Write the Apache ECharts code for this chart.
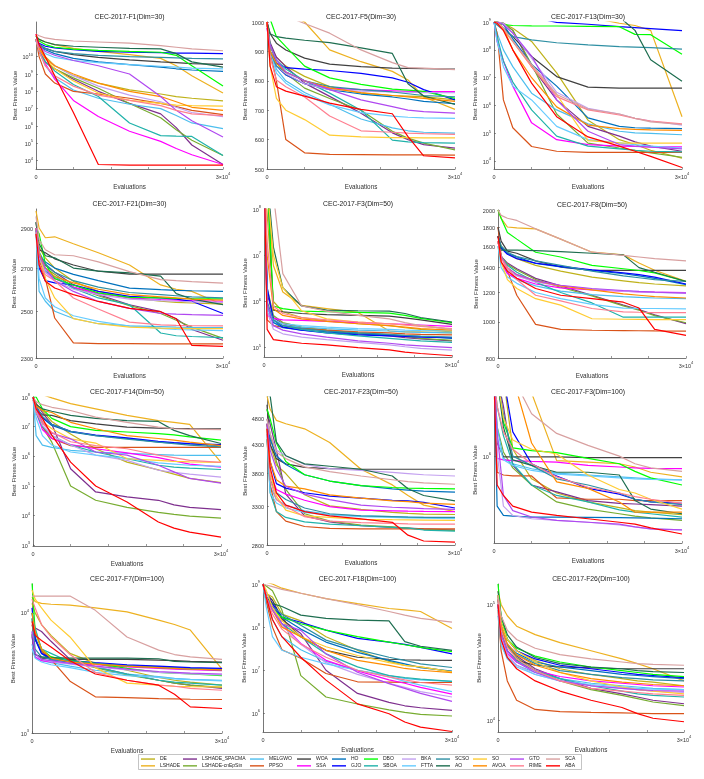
<!DOCTYPE html>
<html>
<head>
<meta charset="utf-8">
<title>CEC-2017 convergence curves</title>
<script src="https://cdn.jsdelivr.net/npm/echarts@6/dist/echarts.min.js"></script>
<style>
  html, body { margin: 0; padding: 0; background: #fff; }
  #chart { width: 704px; height: 779px; }
</style>
</head>
<body>
<div id="chart"></div>
<script>
const evals = [0, 500, 1500, 3000, 6000, 10000, 15000, 20000, 22500, 25000, 30000];

const algorithms = ['DE', 'LSHADE', 'LSHADE_SPACMA', 'LSHADE-cnEpSin', 'MELGWO', 'PPSO', 'WOA', 'SSA',
  'HO', 'GJO', 'DBO', 'SBOA', 'BKA', 'FTTA', 'SCSO', 'AO', 'SO', 'AVOA', 'GTO', 'RIME', 'SCA', 'ABA'];

// rows follow the order of `algorithms`
const f1Dim30 = [
  [1e11, 3e10, 1e10, 3e9, 8e8, 3e8, 1.2e8, 7e7, 5e7, 4e7, 2.8e7],
  [1.5e11, 1e11, 7e10, 5e10, 3e10, 2e10, 1.3e10, 8e9, 3e9, 8e8, 8e7],
  [1e11, 2e10, 5e9, 2e9, 5e8, 1e8, 2e7, 5e6, 8e5, 8e4, 6e3],
  [1e11, 2e10, 5e9, 2e9, 6e8, 1.5e8, 2e7, 3e6, 6e5, 1.5e5, 2e4],
  [1e11, 2e10, 3e9, 6e8, 1.2e8, 4e7, 1.8e7, 1e7, 4e6, 1.5e6, 7e5],
  [1e11, 1e10, 1e9, 3e8, 1e8, 7e7, 4e7, 2e7, 1.3e7, 8e6, 4.5e6],
  [1e11, 5e10, 3e10, 2e10, 1.3e10, 9e9, 6.5e9, 5e9, 4.5e9, 4e9, 3.6e9],
  [2e11, 3e10, 4e9, 5e8, 3e7, 3.5e6, 5e5, 1.3e5, 5e4, 2.2e4, 6e3],
  [8e10, 4e10, 2.5e10, 1.5e10, 8e9, 5e9, 3.5e9, 2.5e9, 2e9, 1.7e9, 1.4e9],
  [1e11, 6e10, 4e10, 3.2e10, 2.5e10, 2e10, 1.8e10, 1.7e10, 1.6e10, 1.6e10, 1.5e10],
  [1.5e11, 8e10, 5e10, 3.5e10, 2.7e10, 2.3e10, 2e10, 1.8e10, 1.2e10, 3e9, 2e8],
  [1e11, 2e10, 5e9, 1.5e9, 2.5e8, 5e7, 1.5e6, 2.8e5, 2.6e5, 2.5e5, 2e4],
  [1e11, 3e10, 8e9, 3e9, 8e8, 2e8, 6e7, 2.5e7, 1.2e7, 6e6, 3.5e6],
  [8e10, 3e10, 1.5e10, 9e9, 6e9, 4.5e9, 3.5e9, 2.8e9, 2.5e9, 2.2e9, 2e9],
  [1e11, 5e10, 3e10, 2e10, 1.5e10, 1.2e10, 1e10, 9e9, 8.5e9, 8e9, 7.5e9],
  [1.5e11, 1e11, 7e10, 5e10, 4e10, 3.5e10, 3e10, 2.8e10, 1.5e10, 5e9, 2.5e9],
  [1e11, 3e10, 8e9, 2e9, 4e8, 8e7, 3e7, 2e7, 1.6e7, 1.5e7, 1.4e7],
  [1e11, 3e10, 8e9, 3e9, 1e9, 3e8, 1e8, 5e7, 2.5e7, 1.2e7, 8e6],
  [1e11, 4e10, 2e10, 1.2e10, 6e9, 3e9, 1e9, 5e7, 8e6, 2e6, 2.3e5],
  [1e11, 2e10, 3e9, 8e8, 2e8, 6e7, 3e7, 1.5e7, 8e6, 5e6, 4e6],
  [2e11, 1.6e11, 1.2e11, 1e11, 8e10, 7e10, 6e10, 4.3e10, 3.5e10, 2.8e10, 2.2e10],
  [2e11, 5e10, 1e10, 8e8, 6e6, 6e3, 5.5e3, 5.5e3, 5.5e3, 5.5e3, 5.5e3]
];

const f5Dim30 = [
  [1000, 920, 880, 850, 815, 780, 758, 750, 748, 746, 735],
  [1060, 1050, 1040, 1030, 1000, 905, 865, 832, 803, 745, 703],
  [1000, 930, 880, 848, 792, 747, 690, 623, 600, 583, 571],
  [1000, 920, 860, 826, 775, 740, 700, 628, 605, 588, 565],
  [1000, 900, 840, 800, 760, 720, 670, 640, 630, 625, 622],
  [1000, 900, 800, 600, 555, 550, 549, 548, 548, 548, 547],
  [1000, 960, 928, 905, 877, 857, 848, 843, 842, 841, 840],
  [980, 900, 850, 820, 790, 775, 770, 766, 764, 763, 763],
  [1000, 900, 850, 820, 790, 770, 755, 745, 738, 730, 722],
  [1000, 900, 860, 845, 840, 835, 825, 810, 795, 770, 735],
  [1060, 1010, 950, 916, 850, 810, 788, 772, 768, 764, 740],
  [1000, 920, 870, 840, 800, 758, 700, 598, 592, 590, 588],
  [1000, 900, 850, 825, 790, 770, 765, 762, 761, 760, 760],
  [1000, 900, 826, 792, 752, 718, 692, 680, 676, 674, 672],
  [1000, 900, 850, 830, 800, 780, 770, 762, 756, 750, 745],
  [1000, 960, 950, 945, 938, 930, 912, 893, 790, 748, 720],
  [1000, 850, 740, 700, 668, 615, 609, 607, 607, 606, 606],
  [1000, 900, 860, 830, 800, 775, 760, 750, 745, 740, 730],
  [980, 920, 870, 830, 800, 770, 735, 712, 700, 695, 690],
  [1000, 880, 803, 780, 745, 680, 630, 625, 622, 620, 618],
  [1060, 1050, 1040, 1020, 995, 962, 905, 862, 845, 843, 838],
  [1000, 850, 780, 765, 748, 724, 703, 688, 610, 545, 538]
];

const f13Dim30 = [
  [1e9, 1e9, 9e8, 6e8, 2e8, 1.5e7, 3e5, 6e4, 4e4, 2.5e4, 1.3e4],
  [5e9, 5e9, 4e9, 3e9, 2.5e9, 2e9, 1.5e9, 9e8, 7.5e8, 5e8, 4e5],
  [1e9, 1e9, 9e8, 5e8, 2.5e7, 1.6e6, 1.8e5, 8e4, 5e4, 3.5e4, 2.3e4],
  [1e9, 1e9, 9e8, 5e8, 3e7, 5e5, 4.5e4, 3e4, 2.5e4, 2e4, 1.4e4],
  [1e9, 4e8, 1e8, 2.5e7, 2.8e6, 7e5, 2.2e5, 1.2e5, 1.05e5, 1e5, 9e4],
  [1e9, 4e8, 1.6e6, 1.6e5, 3.4e4, 2.3e4, 2.1e4, 2.1e4, 2.1e4, 2.1e4, 2.1e4],
  [1e9, 9e8, 6e8, 3e8, 5.8e7, 1.1e7, 4.6e6, 4.2e6, 4.2e6, 4.2e6, 4.2e6],
  [1e9, 2e8, 4e7, 5e6, 2.4e5, 6e4, 4e4, 3.5e4, 3.4e4, 3.3e4, 3.3e4],
  [1e9, 1e9, 8e8, 2.5e8, 3e7, 5e6, 3.6e5, 1.8e5, 1.6e5, 1.55e5, 1.5e5],
  [5e9, 4e9, 3e9, 2.5e9, 1.5e9, 9.7e8, 8.3e8, 6.8e8, 6.3e8, 5.8e8, 4.9e8],
  [1.2e9, 9e8, 8e8, 7.5e8, 7.3e8, 7.2e8, 7e8, 6.8e8, 3.6e8, 3.5e8, 7e7],
  [1e9, 3e8, 4e7, 7e6, 7e5, 8e4, 3.5e4, 2.8e4, 2.5e4, 2.3e4, 2.2e4],
  [1e9, 1e9, 9e8, 4e8, 5e7, 3e6, 8e5, 5e5, 3.5e5, 2.8e5, 2e5],
  [1e9, 2e8, 2.5e7, 5e6, 1.6e6, 1.8e5, 6e4, 4.6e4, 4e4, 3.5e4, 3e4],
  [1e9, 7.8e8, 5.2e8, 3e8, 2.3e8, 1.8e8, 1.5e8, 1.3e8, 1.25e8, 1.2e8, 1.07e8],
  [5e9, 5e9, 4e9, 3.5e9, 3e9, 2.5e9, 2e9, 1.5e9, 5e8, 4.4e7, 7.5e6],
  [1e9, 1e9, 5e8, 2e8, 2.5e7, 2.5e6, 5.5e4, 4.6e4, 4.5e4, 4.5e4, 4.5e4],
  [1e9, 1e9, 6e8, 1e8, 1e7, 9e5, 2e5, 1.5e5, 1.4e5, 1.35e5, 1.3e5],
  [1e9, 1e9, 8e8, 4e8, 6e7, 1.6e6, 1.2e5, 4e4, 3.5e4, 3.2e4, 2.8e4],
  [1e9, 9e8, 6e8, 2e8, 2.5e7, 2.1e6, 7e5, 4.6e5, 3.5e5, 2.8e5, 2.2e5],
  [1e9, 9e8, 6e8, 2e8, 3e7, 2.5e6, 7.5e5, 5e5, 3.5e5, 2.6e5, 2.1e5],
  [1e9, 9e8, 5e8, 1e8, 6.4e6, 4e5, 7.5e4, 3.5e4, 2.3e4, 1.5e4, 6e3]
];

const f21Dim30 = [
  [2900, 2800, 2750, 2700, 2637, 2590, 2560, 2545, 2540, 2537, 2532],
  [2990, 2900, 2850, 2855, 2820, 2775, 2715, 2620, 2600, 2590, 2529],
  [2900, 2770, 2714, 2680, 2621, 2575, 2529, 2498, 2467, 2420, 2374],
  [2900, 2760, 2700, 2670, 2610, 2570, 2525, 2490, 2460, 2430, 2382],
  [2880, 2590, 2545, 2500, 2468, 2445, 2436, 2432, 2430, 2429, 2428],
  [2870, 2740, 2650, 2470, 2363, 2360, 2360, 2359, 2359, 2359, 2359],
  [2930, 2790, 2775, 2745, 2715, 2685, 2671, 2671, 2671, 2671, 2671],
  [2900, 2750, 2680, 2650, 2610, 2580, 2560, 2553, 2550, 2548, 2545],
  [2900, 2760, 2730, 2700, 2670, 2640, 2605, 2598, 2595, 2593, 2590],
  [2900, 2700, 2640, 2630, 2620, 2590, 2567, 2560, 2555, 2545, 2490],
  [2900, 2870, 2720, 2650, 2620, 2583, 2563, 2560, 2558, 2557, 2556],
  [2900, 2750, 2685, 2660, 2605, 2560, 2529, 2405, 2393, 2390, 2385],
  [2900, 2750, 2680, 2640, 2600, 2575, 2555, 2548, 2545, 2542, 2540],
  [2880, 2650, 2560, 2520, 2480, 2455, 2435, 2425, 2420, 2418, 2415],
  [2900, 2780, 2720, 2680, 2640, 2610, 2585, 2575, 2570, 2565, 2560],
  [2930, 2820, 2760, 2750, 2700, 2685, 2677, 2662, 2580, 2555, 2530],
  [2900, 2780, 2650, 2560, 2467, 2445, 2430, 2426, 2425, 2424, 2424],
  [2900, 2770, 2700, 2660, 2630, 2600, 2575, 2565, 2560, 2555, 2550],
  [2900, 2760, 2700, 2640, 2590, 2544, 2513, 2490, 2487, 2485, 2482],
  [2880, 2720, 2668, 2640, 2560, 2510, 2452, 2440, 2438, 2437, 2436],
  [2960, 2840, 2790, 2765, 2760, 2730, 2683, 2645, 2640, 2636, 2629],
  [2870, 2715, 2637, 2606, 2575, 2544, 2513, 2498, 2467, 2352, 2348]
];

const f3Dim50 = [
  [1e9, 8e7, 1e6, 6e5, 4.5e5, 3.8e5, 3.3e5, 3e5, 2.7e5, 2.5e5, 2.2e5],
  [1e9, 3e8, 6e6, 1.6e6, 8.2e5, 7e5, 5.8e5, 2.3e5, 2.2e5, 2.2e5, 2.1e5],
  [1e9, 1.5e6, 4.5e5, 3.3e5, 2.7e5, 2.3e5, 2e5, 1.8e5, 1.65e5, 1.55e5, 1.4e5],
  [1e9, 2e6, 5e5, 3.5e5, 2.8e5, 2.4e5, 2.1e5, 1.9e5, 1.75e5, 1.6e5, 1.45e5],
  [1e9, 6e5, 3.5e5, 3e5, 2.8e5, 2.6e5, 2.4e5, 2.3e5, 2.2e5, 2.15e5, 2.1e5],
  [1e9, 4e5, 3e5, 2.8e5, 2.6e5, 2.4e5, 2.2e5, 2.1e5, 2e5, 1.95e5, 1.9e5],
  [1e9, 5e8, 6.5e5, 6e5, 5.5e5, 5.2e5, 5e5, 4.8e5, 4.4e5, 4e5, 3.2e5],
  [1e9, 5e5, 4.3e5, 4e5, 3.9e5, 3.7e5, 3.5e5, 3.3e5, 3.2e5, 3.1e5, 2.9e5],
  [1e9, 8e5, 3.5e5, 2.7e5, 2.4e5, 2.2e5, 2e5, 1.9e5, 1.8e5, 1.75e5, 1.6e5],
  [1e9, 2e6, 4e5, 2.8e5, 2.4e5, 2.1e5, 1.9e5, 1.8e5, 1.75e5, 1.7e5, 1.65e5],
  [1e9, 5e8, 8e5, 7e5, 6.2e5, 6e5, 5.8e5, 5.6e5, 5e5, 4.3e5, 3.5e5],
  [1e9, 8e5, 4e5, 3e5, 2.5e5, 2.1e5, 1.8e5, 1.6e5, 1.5e5, 1.4e5, 1.3e5],
  [1e9, 6e5, 2.5e5, 2e5, 1.7e5, 1.5e5, 1.3e5, 1.15e5, 1.05e5, 9.7e4, 8.9e4],
  [1e9, 7e5, 4e5, 3.3e5, 3e5, 2.8e5, 2.6e5, 2.5e5, 2.4e5, 2.35e5, 2.3e5],
  [1e9, 1e6, 4e5, 3e5, 2.6e5, 2.3e5, 2.1e5, 1.95e5, 1.85e5, 1.78e5, 1.7e5],
  [1e9, 5e8, 1.5e7, 2e6, 8e5, 6.5e5, 6.3e5, 6.2e5, 5.5e5, 4.5e5, 3.6e5],
  [1e9, 3e8, 1e7, 2e6, 6.3e5, 4.2e5, 3.6e5, 3.3e5, 3.1e5, 3e5, 2.5e5],
  [1e9, 1e7, 7e5, 5e5, 4.2e5, 3.7e5, 3.3e5, 3e5, 2.8e5, 2.6e5, 2.4e5],
  [1e9, 9e5, 3e5, 2.4e5, 2e5, 1.7e5, 1.4e5, 1.25e5, 1.15e5, 1.1e5, 1e5],
  [1e9, 2e7, 8e5, 5.5e5, 4.5e5, 4e5, 3.6e5, 3.3e5, 3.1e5, 2.9e5, 2.6e5],
  [1e9, 1e9, 2e8, 4e6, 8e5, 6.2e5, 5e5, 4.2e5, 3.5e5, 3e5, 2.5e5],
  [1e9, 2.5e5, 1.5e5, 1.4e5, 1.25e5, 1.15e5, 1e5, 9e4, 8e4, 7.5e4, 6.7e4]
];

const f8Dim50 = [
  [1700, 1600, 1530, 1480, 1420, 1370, 1320, 1290, 1275, 1265, 1250],
  [2000, 1900, 1800, 1790, 1780, 1670, 1540, 1515, 1440, 1377, 1286],
  [1650, 1500, 1440, 1390, 1310, 1250, 1180, 1110, 1080, 1045, 990],
  [1650, 1500, 1430, 1380, 1300, 1240, 1175, 1105, 1075, 1040, 995],
  [1600, 1450, 1350, 1300, 1250, 1210, 1185, 1170, 1165, 1160, 1155],
  [1800, 1510, 1370, 1180, 985, 955, 950, 948, 947, 946, 945],
  [1800, 1650, 1550, 1530, 1460, 1405, 1377, 1377, 1377, 1377, 1377],
  [1650, 1450, 1350, 1310, 1265, 1235, 1220, 1210, 1205, 1203, 1200],
  [1700, 1590, 1530, 1496, 1436, 1407, 1377, 1348, 1330, 1310, 1260],
  [1700, 1580, 1520, 1480, 1440, 1410, 1380, 1355, 1340, 1320, 1265],
  [2000, 1900, 1740, 1670, 1540, 1495, 1420, 1390, 1375, 1355, 1285],
  [1650, 1500, 1420, 1360, 1280, 1200, 1125, 1030, 1030, 1030, 1030],
  [1650, 1500, 1380, 1330, 1280, 1250, 1225, 1210, 1205, 1200, 1195],
  [1600, 1400, 1320, 1270, 1200, 1155, 1115, 1090, 1088, 1087, 1085],
  [1700, 1600, 1540, 1500, 1460, 1420, 1370, 1330, 1315, 1300, 1285],
  [1700, 1560, 1560, 1560, 1555, 1545, 1530, 1515, 1400, 1360, 1285],
  [1650, 1450, 1300, 1230, 1155, 1110, 1020, 1017, 1016, 1015, 1015],
  [1650, 1500, 1400, 1340, 1290, 1250, 1220, 1190, 1180, 1170, 1160],
  [1650, 1500, 1400, 1340, 1290, 1255, 1230, 1215, 1208, 1203, 1195],
  [1650, 1480, 1400, 1300, 1180, 1140, 1087, 1065, 1062, 1060, 1059],
  [2000, 1935, 1900, 1875, 1780, 1670, 1540, 1510, 1495, 1480, 1460],
  [1700, 1450, 1370, 1310, 1230, 1180, 1155, 1130, 1090, 955, 920]
];

const f14Dim50 = [
  [1e8, 6e7, 3.5e7, 1.5e7, 5.7e6, 1.8e6, 6.4e5, 3.5e5, 2.5e5, 1.8e5, 1.3e5],
  [1.5e8, 1.5e8, 1.2e8, 9.3e7, 6e7, 4e7, 2.4e7, 1.6e7, 1.4e7, 1.2e7, 6.3e5],
  [1e8, 6e7, 3e7, 1.2e7, 3.8e5, 6.3e4, 4.3e4, 3.3e4, 2.3e4, 1.9e4, 1.6e4],
  [1e8, 5e7, 1e7, 3e6, 1e5, 3.3e4, 1.9e4, 1.3e4, 1.1e4, 9.7e3, 8.3e3],
  [1e8, 5e6, 2.4e6, 2e6, 1.6e6, 1.4e6, 1.25e6, 1.15e6, 1.1e6, 1.08e6, 1.07e6],
  [8e7, 5e7, 1e7, 4e6, 2.3e6, 2e6, 2e6, 2e6, 2e6, 2e6, 2e6],
  [1e8, 4e7, 2.5e7, 2.4e7, 1.6e7, 1.25e7, 9.7e6, 9e6, 8.7e6, 8.6e6, 8.5e6],
  [1e8, 3e7, 8e6, 4e6, 2.5e6, 1.8e6, 1.3e6, 9e5, 7e5, 5.5e5, 4.3e5],
  [1e8, 5e7, 2e7, 1.1e7, 6.6e6, 5e6, 4e6, 3e6, 2.8e6, 2.6e6, 2.3e6],
  [1e8, 5e7, 2e7, 1.2e7, 7e6, 5.2e6, 4.2e6, 3.2e6, 2.9e6, 2.7e6, 2.5e6],
  [1e8, 1e8, 4e7, 1.9e7, 1e7, 7.5e6, 6.6e6, 5.8e6, 5.3e6, 4.5e6, 3.5e6],
  [1e8, 3e7, 1e7, 5e6, 2.4e6, 1.4e6, 8.3e5, 5e5, 4.3e5, 4e5, 3.6e5],
  [1e8, 4e7, 1.1e7, 5e6, 2.4e6, 1.1e6, 7.3e5, 3.4e5, 2.9e5, 2.5e5, 2e5],
  [1e8, 2e7, 5e6, 2.4e6, 1.4e6, 1.1e6, 8.5e5, 6e5, 5.5e5, 5e5, 4.6e5],
  [1e8, 5e7, 2.2e7, 1.2e7, 7e6, 5e6, 3.8e6, 3e6, 2.7e6, 2.4e6, 2.1e6],
  [1e8, 5.5e7, 4e7, 3.3e7, 2.4e7, 1.9e7, 1.6e7, 1.5e7, 7.5e6, 5e6, 2.7e6],
  [1e8, 4e7, 1.5e7, 8.5e6, 3.9e6, 2.8e6, 8.3e5, 7.3e5, 6.8e5, 6.5e5, 6.3e5],
  [1e8, 5e7, 3.5e7, 3e7, 1.4e7, 8.5e6, 5e6, 4e6, 3.5e6, 3e6, 2.3e6],
  [1e8, 4e7, 1.4e7, 6e6, 3.9e6, 1.4e6, 1.1e6, 5e5, 3e5, 1.8e5, 1.25e5],
  [1e8, 3e7, 1.3e7, 6.5e6, 3.1e6, 2.3e6, 1.8e6, 1.1e6, 9e5, 7.3e5, 6.3e5],
  [1e8, 7e7, 5.5e7, 4.5e7, 3.5e7, 2.1e7, 1.4e7, 9.7e6, 8.5e6, 8.2e6, 7.9e6],
  [1e8, 4e7, 1.9e7, 5.2e6, 6.4e5, 1e5, 2.9e4, 6.1e3, 3.8e3, 2.8e3, 1.9e3]
];

const f23Dim50 = [
  [4700, 4300, 3940, 3800, 3470, 3310, 3260, 3220, 3205, 3195, 3190],
  [5300, 5000, 4770, 4700, 4600, 4340, 3870, 3620, 3460, 3320, 3230],
  [5000, 4700, 4200, 3480, 3170, 3090, 3040, 3020, 3010, 3000, 2985],
  [4800, 4500, 4000, 3550, 3200, 3100, 3050, 3025, 3010, 2995, 2980],
  [4500, 3600, 3400, 3320, 3240, 3190, 3170, 3160, 3155, 3150, 3145],
  [4400, 3620, 3230, 3100, 3030, 3005, 3000, 3000, 3000, 3000, 3000],
  [5100, 4300, 4050, 3960, 3900, 3880, 3870, 3870, 3870, 3870, 3870],
  [4600, 3800, 3550, 3480, 3390, 3300, 3250, 3240, 3235, 3232, 3230],
  [4700, 4400, 4100, 3950, 3780, 3680, 3610, 3560, 3540, 3525, 3510],
  [4700, 4000, 3640, 3570, 3500, 3450, 3420, 3390, 3380, 3360, 3280],
  [5000, 4800, 4330, 4000, 3780, 3680, 3610, 3580, 3570, 3565, 3560],
  [4400, 3500, 3230, 3150, 3090, 3060, 3040, 3020, 3010, 2985, 2970],
  [4800, 4500, 4200, 4100, 3950, 3880, 3850, 3820, 3800, 3780, 3760],
  [4500, 3500, 3350, 3280, 3220, 3180, 3160, 3150, 3145, 3140, 3135],
  [4600, 3700, 3500, 3400, 3280, 3200, 3170, 3160, 3155, 3152, 3150],
  [5300, 5300, 4350, 4100, 3960, 3920, 3870, 3760, 3560, 3460, 3380],
  [4600, 3800, 3450, 3250, 3170, 3150, 3125, 3120, 3118, 3115, 3110],
  [4700, 4000, 3700, 3600, 3560, 3470, 3420, 3380, 3370, 3350, 3330],
  [4700, 4200, 3870, 3600, 3480, 3400, 3320, 3290, 3280, 3270, 3260],
  [4500, 3700, 3400, 3300, 3160, 3100, 3080, 3070, 3065, 3062, 3060],
  [4800, 4500, 4160, 4050, 3910, 3830, 3760, 3700, 3670, 3650, 3630],
  [4600, 3900, 3500, 3320, 3230, 3170, 3130, 3085, 2920, 2848, 2835]
];

const f3Dim100 = [
  [3e6, 3e6, 3e6, 1.1e6, 7.3e5, 6e5, 5.3e5, 4.9e5, 4.7e5, 4.6e5, 4.45e5],
  [3e6, 3e6, 3e6, 3e6, 2.4e6, 9.4e5, 9.2e5, 9e5, 8.6e5, 8e5, 7.5e5],
  [3e6, 3e6, 2e6, 8.8e5, 6.7e5, 6.1e5, 5.4e5, 5.2e5, 5.15e5, 5.1e5, 5e5],
  [3e6, 1.5e6, 1.06e6, 8.5e5, 6.7e5, 5.3e5, 4.8e5, 4.5e5, 4.35e5, 4.25e5, 4.1e5],
  [3e6, 1.5e6, 9.7e5, 9e5, 8.4e5, 7.9e5, 7.7e5, 7.5e5, 7.4e5, 7.3e5, 7.2e5],
  [3e6, 8e5, 7.7e5, 7.6e5, 7.6e5, 5.6e5, 5.5e5, 5.5e5, 5.4e5, 5.4e5, 5.4e5],
  [3e6, 1.2e6, 9.9e5, 9.9e5, 9.9e5, 9.9e5, 9.8e5, 9.8e5, 9.8e5, 9.8e5, 9.8e5],
  [3e6, 9.7e5, 9.5e5, 9.4e5, 9.3e5, 9.2e5, 8.8e5, 8.6e5, 8.5e5, 8.45e5, 8.4e5],
  [3e6, 5e5, 4.4e5, 4.35e5, 4.3e5, 4.3e5, 4.28e5, 4.26e5, 4.25e5, 4.23e5, 4.2e5],
  [3e6, 3e6, 3e6, 1.4e6, 9e5, 7.6e5, 6.4e5, 5.9e5, 5.5e5, 5.3e5, 5.2e5],
  [3e6, 3e6, 1.6e6, 1.12e6, 1.08e6, 1.05e6, 9.7e5, 9e5, 8.1e5, 7.4e5, 6.7e5],
  [3e6, 2e6, 1.33e6, 9e5, 6.7e5, 5.8e5, 5.3e5, 4.75e5, 4.6e5, 4.5e5, 4.3e5],
  [3e6, 1.05e6, 5e5, 4.4e5, 4.2e5, 4.1e5, 4e5, 3.85e5, 3.75e5, 3.65e5, 3.6e5],
  [3e6, 1.3e6, 9.5e5, 8.8e5, 8.2e5, 7.8e5, 7.6e5, 7.4e5, 7.3e5, 7.25e5, 7.2e5],
  [3e6, 3e6, 1.8e6, 1e6, 8.8e5, 7.3e5, 6.7e5, 6e5, 5.5e5, 5.3e5, 5.1e5],
  [3e6, 3e6, 1.5e6, 9.5e5, 8.8e5, 8e5, 8e5, 7.7e5, 5.4e5, 4.8e5, 4.5e5],
  [3e6, 3e6, 1.7e6, 1.25e6, 1.1e6, 1.03e6, 7.7e5, 6.3e5, 6e5, 5.5e5, 4.8e5],
  [3e6, 3e6, 3e6, 3e6, 1.2e6, 7e5, 6.4e5, 5.3e5, 4.6e5, 4.6e5, 4.6e5],
  [3e6, 1.4e6, 5.8e5, 4.7e5, 4.3e5, 4.1e5, 4e5, 3.9e5, 3.75e5, 3.65e5, 3.6e5],
  [3e6, 2e6, 1.4e6, 1.1e6, 9e5, 7.5e5, 6.5e5, 6e5, 5.7e5, 5.5e5, 5.2e5],
  [3e6, 3e6, 3e6, 3e6, 1.8e6, 1.37e6, 1.16e6, 1e6, 9e5, 8.5e5, 8.1e5],
  [3e6, 6.7e5, 5.8e5, 5e5, 4.6e5, 4.4e5, 4.2e5, 4e5, 3.9e5, 3.7e5, 3.4e5]
];

const f7Dim100 = [
  [1.2e4, 1e4, 8e3, 6.5e3, 4.6e3, 3.8e3, 3.33e3, 2.9e3, 2.75e3, 2.65e3, 2.5e3],
  [1.36e4, 1.24e4, 1.2e4, 1.18e4, 1.16e4, 1.1e4, 1.02e4, 8.7e3, 8e3, 7.2e3, 3.4e3],
  [8e3, 7.5e3, 7e3, 5.8e3, 4.1e3, 3.55e3, 3.1e3, 2.75e3, 2.6e3, 2.5e3, 2.35e3],
  [9e3, 6e3, 4.8e3, 4.3e3, 3.9e3, 3.5e3, 3.05e3, 2.75e3, 2.6e3, 2.5e3, 2.4e3],
  [5.5e3, 4.3e3, 4e3, 3.85e3, 3.6e3, 3.33e3, 3.1e3, 2.95e3, 2.85e3, 2.8e3, 2.75e3],
  [8e3, 6e3, 4.8e3, 4.1e3, 2.7e3, 2e3, 1.97e3, 1.93e3, 1.92e3, 1.91e3, 1.9e3],
  [6.7e3, 4.5e3, 4.2e3, 4.15e3, 4.1e3, 4.1e3, 4.1e3, 4.05e3, 4e3, 3.95e3, 3.9e3],
  [6.3e3, 4.3e3, 4e3, 3.9e3, 3.8e3, 3.7e3, 3.55e3, 3.45e3, 3.4e3, 3.37e3, 3.3e3],
  [1e4, 6.3e3, 4.6e3, 4.05e3, 3.9e3, 3.8e3, 3.65e3, 3.55e3, 3.5e3, 3.45e3, 3.4e3],
  [1.1e4, 6e3, 4.6e3, 4.2e3, 4e3, 3.85e3, 3.7e3, 3.6e3, 3.55e3, 3.5e3, 3.45e3],
  [1.8e4, 7e3, 5e3, 4.3e3, 4e3, 3.8e3, 3.45e3, 3.2e3, 3.15e3, 3.1e3, 3e3],
  [1e4, 7.5e3, 5e3, 4.6e3, 3.9e3, 3.55e3, 3.1e3, 2.75e3, 2.65e3, 2.6e3, 2.5e3],
  [7e3, 4.5e3, 4.1e3, 3.95e3, 3.75e3, 3.55e3, 3.35e3, 3.2e3, 3.15e3, 3.1e3, 3.05e3],
  [5e3, 4.2e3, 3.9e3, 3.7e3, 3.5e3, 3.2e3, 3e3, 2.9e3, 2.82e3, 2.78e3, 2.72e3],
  [9e3, 5e3, 4.3e3, 4.1e3, 3.95e3, 3.8e3, 3.6e3, 3.5e3, 3.45e3, 3.4e3, 3.35e3],
  [6.5e3, 4.5e3, 4.3e3, 4.25e3, 4.2e3, 4.2e3, 4.2e3, 4.15e3, 3.95e3, 3.9e3, 3.85e3],
  [1.55e4, 1.3e4, 1.1e4, 8.7e3, 6.3e3, 3.5e3, 2.6e3, 2.5e3, 2.45e3, 2.43e3, 2.42e3],
  [1e4, 7e3, 5e3, 4.2e3, 3.9e3, 3.75e3, 3.6e3, 3.5e3, 3.45e3, 3.4e3, 3.35e3],
  [7e3, 4.6e3, 4.1e3, 4e3, 3.8e3, 3.6e3, 3.4e3, 3.25e3, 3.2e3, 3.15e3, 3.1e3],
  [1.3e4, 1.1e4, 8e3, 6.3e3, 4.5e3, 3.2e3, 2.75e3, 2.5e3, 2.45e3, 2.35e3, 2.27e3],
  [1.38e4, 1.38e4, 1.38e4, 1.38e4, 1.38e4, 1.05e4, 6.3e3, 4.9e3, 4.5e3, 4.3e3, 4.1e3],
  [8.5e3, 6.5e3, 5.9e3, 5.2e3, 4e3, 3.1e3, 2.75e3, 2.5e3, 2.1e3, 1.65e3, 1.6e3]
];

const f18Dim100 = [
  [1e9, 6e8, 5e8, 2e8, 1.4e8, 6e7, 2.9e7, 1.6e7, 1.3e7, 1.2e7, 9.2e6],
  [1.2e9, 1.1e9, 1e9, 8e8, 6.1e8, 4.6e8, 3.5e8, 2.7e8, 2.5e8, 2.3e8, 9.3e7],
  [1e9, 6e8, 3.5e8, 1.5e8, 7.1e7, 1e7, 2.9e6, 1.8e6, 1.5e6, 1.35e6, 1.17e6],
  [1e9, 9e8, 7e8, 2.5e8, 7.5e6, 2.4e6, 1.65e6, 1.2e6, 1.05e6, 9.5e5, 8.7e5],
  [1e9, 4e8, 1.5e8, 6e7, 3e7, 1.6e7, 1e7, 7.5e6, 6.5e6, 6e6, 5.5e6],
  [1e9, 4e8, 1e8, 3e7, 1.9e7, 8.4e6, 5.4e6, 5.3e6, 5.25e6, 5.2e6, 5.2e6],
  [1e9, 6e8, 4.2e8, 1.6e8, 6e7, 2.9e7, 2e7, 1.8e7, 1.75e7, 1.72e7, 1.7e7],
  [1e9, 6e8, 3.5e8, 1.2e8, 4.2e7, 1.7e7, 9.7e6, 6e6, 5e6, 4e6, 2.8e6],
  [1e9, 5e8, 2.8e8, 1.7e8, 9e7, 4.5e7, 2.6e7, 1.7e7, 1.4e7, 1.15e7, 9.5e6],
  [1e9, 6e8, 3.5e8, 1.7e8, 1.3e8, 8.5e7, 5.5e7, 4.5e7, 4e7, 3.4e7, 2.4e7],
  [1e9, 5e8, 2.6e8, 1.7e8, 1.2e8, 8.5e7, 6e7, 4.5e7, 3.9e7, 3.4e7, 2.7e7],
  [1e9, 5e8, 2.5e8, 1.2e8, 6e7, 2.4e7, 1.2e7, 7.5e6, 6.8e6, 6.2e6, 5.5e6],
  [1e9, 6e8, 3e8, 1.1e8, 4e7, 1.5e7, 8e6, 5e6, 4e6, 3.2e6, 2.4e6],
  [1e9, 3e8, 6e7, 2.9e7, 2e7, 1.4e7, 1e7, 7e6, 5.5e6, 4.5e6, 3.2e6],
  [1e9, 5e8, 3e8, 2e8, 1.1e8, 5e7, 3e7, 2e7, 1.7e7, 1.4e7, 1.16e7],
  [1e9, 5e8, 3.5e8, 3e8, 1.9e8, 1.6e8, 1.45e8, 1.4e8, 4.6e7, 3.6e7, 2.9e7],
  [1e9, 7.3e8, 2.8e8, 1.4e8, 6e7, 3.5e7, 2.2e7, 1.5e7, 1.3e7, 1.2e7, 9.2e6],
  [1e9, 5e8, 2.5e8, 1e8, 6e7, 2.9e7, 1.7e7, 1.3e7, 1.1e7, 1e7, 8.8e6],
  [1e9, 5e8, 2.5e8, 1.2e8, 8.4e7, 2.4e7, 9e6, 4.9e6, 3.8e6, 2.9e6, 1.9e6],
  [1e9, 5e8, 2e8, 9e7, 4e7, 2e7, 1e7, 7e6, 6e6, 5.2e6, 4.5e6],
  [1e9, 9.5e8, 8.7e8, 7.5e8, 6.1e8, 4.6e8, 3.3e8, 2.3e8, 1.9e8, 1.6e8, 1.3e8],
  [1e9, 5e8, 1.5e8, 6e7, 2e7, 5.9e6, 1.66e6, 9.8e5, 6.3e5, 4.8e5, 3.8e5]
];

const f26Dim100 = [
  [1.2e5, 7e4, 5e4, 4e4, 3.3e4, 2.8e4, 2.5e4, 2.3e4, 2.2e4, 2.15e4, 2e4],
  [1.3e5, 1e5, 8e4, 6.5e4, 5.5e4, 4.7e4, 4e4, 3.4e4, 3.1e4, 2.8e4, 2.2e4],
  [1e5, 6e4, 4.5e4, 3.6e4, 2.8e4, 2.3e4, 1.9e4, 1.7e4, 1.6e4, 1.5e4, 1.4e4],
  [1e5, 6e4, 4.4e4, 3.5e4, 2.7e4, 2.2e4, 1.85e4, 1.65e4, 1.55e4, 1.45e4, 1.35e4],
  [8e4, 4.5e4, 3.5e4, 3e4, 2.6e4, 2.3e4, 2.1e4, 2e4, 1.95e4, 1.9e4, 1.85e4],
  [9e4, 4e4, 2.2e4, 1.5e4, 1.25e4, 1.2e4, 1.18e4, 1.17e4, 1.16e4, 1.15e4, 1.15e4],
  [1.2e5, 6e4, 4e4, 3.3e4, 3e4, 2.9e4, 2.85e4, 2.8e4, 2.8e4, 2.8e4, 2.8e4],
  [1e5, 5e4, 3.8e4, 3.2e4, 2.7e4, 2.4e4, 2.2e4, 2.1e4, 2.05e4, 2e4, 1.95e4],
  [1e5, 6e4, 4.5e4, 3.8e4, 3.2e4, 2.9e4, 2.7e4, 2.5e4, 2.45e4, 2.4e4, 2.3e4],
  [1.1e5, 7e4, 5e4, 4e4, 3.4e4, 3e4, 2.8e4, 2.6e4, 2.5e4, 2.45e4, 2.35e4],
  [1.5e5, 8e4, 5e4, 4.2e4, 3.6e4, 3.2e4, 2.9e4, 2.7e4, 2.6e4, 2.5e4, 2.4e4],
  [1e5, 5.5e4, 4e4, 3.3e4, 2.7e4, 2.3e4, 2e4, 1.8e4, 1.7e4, 1.65e4, 1.6e4],
  [1e5, 5e4, 3.7e4, 3e4, 2.5e4, 2.2e4, 2e4, 1.9e4, 1.85e4, 1.8e4, 1.75e4],
  [9e4, 4.5e4, 3.4e4, 2.9e4, 2.5e4, 2.2e4, 2.05e4, 1.95e4, 1.9e4, 1.87e4, 1.85e4],
  [1.1e5, 6e4, 4.5e4, 3.7e4, 3.1e4, 2.7e4, 2.5e4, 2.35e4, 2.3e4, 2.25e4, 2.2e4],
  [1.3e5, 8e4, 5.5e4, 4.3e4, 3.5e4, 3.1e4, 2.9e4, 2.8e4, 2.7e4, 2.65e4, 2.6e4],
  [1.2e5, 7e4, 5e4, 4e4, 3.2e4, 2.6e4, 2.2e4, 1.95e4, 1.85e4, 1.8e4, 1.7e4],
  [1.1e5, 6.5e4, 4.6e4, 3.7e4, 3e4, 2.6e4, 2.3e4, 2.15e4, 2.1e4, 2.05e4, 2e4],
  [1e5, 5.5e4, 4e4, 3.2e4, 2.6e4, 2.2e4, 2e4, 1.9e4, 1.85e4, 1.82e4, 1.8e4],
  [1.1e5, 6e4, 4.3e4, 3.4e4, 2.7e4, 2.2e4, 1.9e4, 1.8e4, 1.75e4, 1.7e4, 1.65e4],
  [1.2e5, 8e4, 6e4, 5e4, 4.2e4, 3.7e4, 3.4e4, 3.2e4, 3.1e4, 3.05e4, 3e4],
  [1e5, 5e4, 3.5e4, 2.8e4, 2.2e4, 1.8e4, 1.5e4, 1.3e4, 1.15e4, 1.05e4, 9.8e3]
];

const colors = ['#BFB21A', '#EDB120', '#7E2F8E', '#77AC30', '#4DBEEE', '#D95319', '#404040', '#FF00FF',
  '#0072BD', '#0000FF', '#00FF00', '#20B2AA', '#C3A0F0', '#66CCFF', '#2E8FA3', '#1E6E50',
  '#FFCC33', '#FF8C00', '#B048F0', '#FF7F90', '#D8A0A0', '#FF0000'];

// box = [left, top, width, height] of each plot area; gap = distance of the y name
const panels = [
  { title: 'CEC-2017-F1(Dim=30)', data: f1Dim30, type: 'log', min: 3300, max: 1e12, ticks: [1e4, 1e5, 1e6, 1e7, 1e8, 1e9, 1e10], pow: true, box: [36, 22, 187, 147], gap: 16 },
  { title: 'CEC-2017-F5(Dim=30)', data: f5Dim30, type: 'value', min: 500, max: 1000, ticks: [500, 600, 700, 800, 900, 1000], pow: false, box: [267, 22, 188, 147], gap: 18 },
  { title: 'CEC-2017-F13(Dim=30)', data: f13Dim30, type: 'log', min: 5300, max: 1e9, ticks: [1e4, 1e5, 1e6, 1e7, 1e8, 1e9], pow: true, box: [494, 22, 188, 147], gap: 13 },
  { title: 'CEC-2017-F21(Dim=30)', data: f21Dim30, type: 'log', min: 2300, max: 3000, ticks: [2300, 2500, 2700, 2900], pow: false, box: [36, 209, 187, 149], gap: 16 },
  { title: 'CEC-2017-F3(Dim=50)', data: f3Dim50, type: 'log', min: 6.3e4, max: 1e8, ticks: [1e5, 1e6, 1e7, 1e8], pow: true, box: [264, 209, 188, 148], gap: 14 },
  { title: 'CEC-2017-F8(Dim=50)', data: f8Dim50, type: 'log', min: 800, max: 2000, ticks: [800, 1000, 1200, 1400, 1600, 1800, 2000], pow: false, box: [498, 210, 188, 148], gap: 18 },
  { title: 'CEC-2017-F14(Dim=50)', data: f14Dim50, type: 'log', min: 950, max: 1e8, ticks: [1e3, 1e4, 1e5, 1e6, 1e7, 1e8], pow: true, box: [33, 397, 188, 149], gap: 13 },
  { title: 'CEC-2017-F23(Dim=50)', data: f23Dim50, type: 'log', min: 2800, max: 5270, ticks: [2800, 3300, 3800, 4300, 4800], pow: false, box: [267, 397, 188, 148], gap: 18 },
  { title: 'CEC-2017-F3(Dim=100)', data: f3Dim100, type: 'log', min: 3e5, max: 2.27e6, ticks: [1e6], pow: true, box: [494, 397, 188, 146], gap: 13 },
  { title: 'CEC-2017-F7(Dim=100)', data: f7Dim100, type: 'log', min: 1000, max: 1.74e4, ticks: [1e3, 1e4], pow: true, box: [32, 584, 190, 149], gap: 12 },
  { title: 'CEC-2017-F18(Dim=100)', data: f18Dim100, type: 'log', min: 3.7e5, max: 1e9, ticks: [1e6, 1e7, 1e8, 1e9], pow: true, box: [263, 584, 189, 148], gap: 13 },
  { title: 'CEC-2017-F26(Dim=100)', data: f26Dim100, type: 'log', min: 8000, max: 1.5e5, ticks: [1e4, 1e5], pow: true, box: [498, 584, 186, 148], gap: 16 }
];

const FONT = '"Liberation Sans", Arial, Helvetica, sans-serif';
const TXT = '#333';
const rich = {
  b: { fontSize: 5.5, color: TXT, fontFamily: FONT, lineHeight: 8, verticalAlign: 'bottom' },
  s: { fontSize: 4, color: TXT, fontFamily: FONT, lineHeight: 8, verticalAlign: 'top' }
};

const grid = [], xAxis = [], yAxis = [], title = [], series = [];

panels.forEach((p, i) => {
  const [left, top, width, height] = p.box;
  grid.push({ left, top, width, height, containLabel: false, outerBoundsMode: 'none' });

  title.push({
    text: p.title, left: left + width / 2, top: top - 8, textAlign: 'center', padding: 0,
    textStyle: { fontSize: 6.8, fontWeight: 'normal', color: '#222', fontFamily: FONT }
  });

  xAxis.push({
    gridIndex: i, type: 'value', min: 0, max: 30000, interval: 6000,
    name: 'Evaluations', nameLocation: 'middle', nameGap: 15,
    nameTextStyle: { fontSize: 6.3, color: TXT, fontFamily: FONT },
    axisLine: { onZero: false, lineStyle: { color: '#555', width: 0.8 } },
    axisTick: { inside: true, length: 2, lineStyle: { color: '#555', width: 0.6 } },
    axisLabel: {
      margin: 3, fontSize: 5.5, color: TXT, fontFamily: FONT, rich,
      formatter: v => v === 0 ? '{b|0}' : (v === 30000 ? '{b|3×10}{s|4}' : '')
    },
    splitLine: { show: false }
  });

  yAxis.push({
    gridIndex: i, type: p.type, logBase: 10, min: p.min, max: p.max,
    name: 'Best Fitness Value', nameLocation: 'middle', nameGap: p.gap,
    nameTextStyle: { fontSize: 6, color: TXT, fontFamily: FONT },
    axisLine: { show: true, lineStyle: { color: '#555', width: 0.8 } },
    axisTick: { show: true, inside: true, length: 2, customValues: p.ticks, lineStyle: { color: '#555', width: 0.6 } },
    axisLabel: {
      margin: 3, fontSize: 5.5, color: TXT, fontFamily: FONT, rich, customValues: p.ticks,
      formatter: v => p.pow ? '{b|10}{s|' + Math.round(Math.log10(v)) + '}' : '{b|' + Math.round(v) + '}'
    },
    splitLine: { show: false }
  });

  p.data.forEach((row, k) => {
    series.push({
      type: 'line', name: algorithms[k], xAxisIndex: i, yAxisIndex: i,
      data: evals.map((e, j) => [e, row[j]]),
      symbol: 'none', showSymbol: false, silent: true, clip: true,
      lineStyle: { width: 1.2, color: colors[k] }, itemStyle: { color: colors[k] }
    });
  });
});

// legend: 11 columns of two entries, like the original figure legend
const legendCols = [141, 183, 250, 297, 332, 364, 402, 436, 473, 510, 546];
const legend = legendCols.map((x, c) => ({
  orient: 'vertical', left: x, top: 755.8, padding: 0, itemGap: 0.3,
  itemWidth: 14, itemHeight: 1.4, icon: 'rect', selectedMode: false,
  textStyle: { fontSize: 5, lineHeight: 6.5, color: '#222', fontFamily: FONT },
  data: [algorithms[2 * c], algorithms[2 * c + 1]]
}));

const chart = echarts.init(document.getElementById('chart'), null, { renderer: 'canvas' });
chart.setOption({
  animation: false,
  backgroundColor: '#fff',
  title, grid, xAxis, yAxis, legend, series,
  graphic: [{
    type: 'rect', z: -1, silent: true,
    shape: { x: 138.5, y: 754.5, width: 443, height: 15 },
    style: { fill: '#fff', stroke: '#aaa', lineWidth: 0.7 }
  }]
});
</script>
</body>
</html>
